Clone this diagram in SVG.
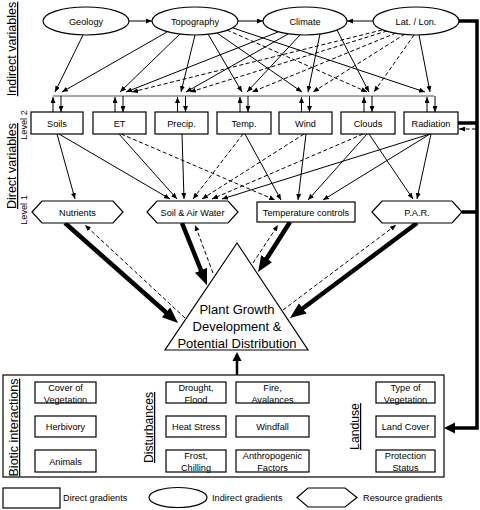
<svg xmlns="http://www.w3.org/2000/svg" width="480" height="510" viewBox="0 0 480 510">
<style>
text{font-family:"Liberation Sans",Arial,sans-serif;fill:#000}
.t{font-size:9.2px;text-anchor:middle}
.big{font-size:13px;text-anchor:middle}
.lab{font-size:12.5px;text-anchor:middle;text-decoration:underline}
.lv{font-size:9.2px;text-anchor:middle}
.sh{fill:#fff;stroke:#000;stroke-width:1.2}
.s{stroke:#000;stroke-width:1;fill:none}
.d{stroke:#000;stroke-width:1;fill:none;stroke-dasharray:4 2.5}
.k{stroke:#000;stroke-width:4.5;fill:none}
.r{stroke:#000;stroke-width:3.5;fill:none}
</style>
<defs>
<marker id="a" viewBox="0 0 6 5" refX="6" refY="2.5" markerWidth="6" markerHeight="5" markerUnits="userSpaceOnUse" orient="auto"><path d="M0,0L6,2.5L0,5z" fill="#000"/></marker>
<marker id="T" viewBox="0 0 16 13" refX="4" refY="6.5" markerWidth="16" markerHeight="13" markerUnits="userSpaceOnUse" orient="auto"><path d="M0,0L16,6.5L0,13z" fill="#000"/></marker>
</defs>
<rect width="480" height="510" fill="#fff"/>

<g id="side-labels">
<text class="lab" transform="translate(16,49) rotate(-90)">Indirect variables</text>
<text class="lab" transform="translate(16,166) rotate(-90)">Direct  variables</text>
<text class="lv" transform="translate(27,125) rotate(-90)">Level 2</text>
<text class="lv" transform="translate(27,210) rotate(-90)">Level 1</text>
</g>

<g id="connectors">
<line class="s" x1="129" y1="21" x2="152" y2="21" marker-end="url(#a)"/>
<line class="s" x1="238" y1="21" x2="263" y2="21" marker-end="url(#a)"/>
<line class="s" x1="373" y1="21" x2="347" y2="21" marker-end="url(#a)"/>
<line x1="53" y1="96" x2="434" y2="96" stroke="#8a8a8a" stroke-width="1.3"/>
<line class="s" x1="83" y1="35" x2="55" y2="92" marker-end="url(#a)"/>
<line class="s" x1="167" y1="32" x2="62" y2="92" marker-end="url(#a)"/>
<line class="s" x1="180" y1="34" x2="120" y2="92" marker-end="url(#a)"/>
<line class="s" x1="195" y1="35" x2="181" y2="92" marker-end="url(#a)"/>
<line class="s" x1="208" y1="34" x2="242" y2="92" marker-end="url(#a)"/>
<line class="s" x1="217" y1="33" x2="302" y2="92" marker-end="url(#a)"/>
<line class="d" x1="227" y1="30" x2="367" y2="92" marker-end="url(#a)"/>
<line class="s" x1="233" y1="28" x2="425" y2="92" marker-end="url(#a)"/>
<line class="s" x1="278" y1="32" x2="126" y2="92" marker-end="url(#a)"/>
<line class="s" x1="288" y1="34" x2="186" y2="92" marker-end="url(#a)"/>
<line class="s" x1="300" y1="35" x2="247" y2="92" marker-end="url(#a)"/>
<line class="s" x1="320" y1="34" x2="308" y2="92" marker-end="url(#a)"/>
<line class="s" x1="337" y1="30" x2="369" y2="92" marker-end="url(#a)"/>
<line class="d" x1="382" y1="30" x2="132" y2="92" marker-end="url(#a)"/>
<line class="d" x1="387" y1="31" x2="190" y2="92" marker-end="url(#a)"/>
<line class="d" x1="396" y1="33" x2="252" y2="92" marker-end="url(#a)"/>
<line class="d" x1="405" y1="34" x2="313" y2="92" marker-end="url(#a)"/>
<line class="d" x1="414" y1="35" x2="374" y2="92" marker-end="url(#a)"/>
<line class="s" x1="419" y1="35" x2="430" y2="92" marker-end="url(#a)"/>
<!-- up/down between bus and level-2 boxes -->
<line class="s" x1="53" y1="112" x2="53" y2="97" marker-end="url(#a)"/>
<line class="s" x1="61" y1="96" x2="61" y2="112" marker-end="url(#a)"/>
<line class="s" x1="115" y1="112" x2="115" y2="97" marker-end="url(#a)"/>
<line class="s" x1="123" y1="96" x2="123" y2="112" marker-end="url(#a)"/>
<line class="s" x1="177.5" y1="112" x2="177.5" y2="97" marker-end="url(#a)"/>
<line class="s" x1="185.5" y1="96" x2="185.5" y2="112" marker-end="url(#a)"/>
<line class="s" x1="240" y1="112" x2="240" y2="97" marker-end="url(#a)"/>
<line class="s" x1="248" y1="96" x2="248" y2="112" marker-end="url(#a)"/>
<line class="s" x1="301.5" y1="112" x2="301.5" y2="97" marker-end="url(#a)"/>
<line class="s" x1="309.5" y1="96" x2="309.5" y2="112" marker-end="url(#a)"/>
<line class="s" x1="364" y1="112" x2="364" y2="97" marker-end="url(#a)"/>
<line class="s" x1="372" y1="96" x2="372" y2="112" marker-end="url(#a)"/>
<line class="s" x1="427" y1="112" x2="427" y2="97" marker-end="url(#a)"/>
<line class="s" x1="435" y1="96" x2="435" y2="112" marker-end="url(#a)"/>
<!-- level 2 to level 1 -->
<line class="s" x1="57" y1="134" x2="75" y2="199" marker-end="url(#a)"/>
<line class="s" x1="59" y1="134" x2="170" y2="199" marker-end="url(#a)"/>
<line class="s" x1="119" y1="134" x2="177" y2="199" marker-end="url(#a)"/>
<line class="d" x1="121" y1="134" x2="275" y2="200" marker-end="url(#a)"/>
<line class="s" x1="182" y1="134" x2="184" y2="199" marker-end="url(#a)"/>
<line class="d" x1="243" y1="134" x2="193" y2="199" marker-end="url(#a)"/>
<line class="s" x1="245" y1="134" x2="281" y2="200" marker-end="url(#a)"/>
<line class="d" x1="304" y1="134" x2="202" y2="199" marker-end="url(#a)"/>
<line class="s" x1="306" y1="134" x2="298" y2="200" marker-end="url(#a)"/>
<line class="d" x1="363" y1="134" x2="212" y2="199" marker-end="url(#a)"/>
<line class="s" x1="367" y1="134" x2="308" y2="200" marker-end="url(#a)"/>
<line class="s" x1="369" y1="134" x2="413" y2="199" marker-end="url(#a)"/>
<line class="s" x1="430" y1="134" x2="222" y2="199" marker-end="url(#a)"/>
<line class="s" x1="430" y1="134" x2="323" y2="200" marker-end="url(#a)"/>
<line class="s" x1="431" y1="134" x2="417" y2="199" marker-end="url(#a)"/>
<!-- right thick feedback line -->
<polyline class="r" points="459,21 477,21 477,428 453,428"/>
<polygon points="444,428 455,422.5 455,433.5" fill="#000"/>
<line class="r" x1="458" y1="123" x2="477" y2="123"/>
<line class="r" x1="462" y1="212" x2="477" y2="212"/>
<line class="d" x1="476" y1="129" x2="459" y2="129" marker-end="url(#a)"/>
<!-- thick arrows to plant growth -->
<line class="k" x1="65" y1="223" x2="169" y2="315" marker-end="url(#T)"/>
<line class="k" x1="182" y1="223" x2="202.5" y2="274" marker-end="url(#T)"/>
<line class="k" x1="290" y1="222" x2="264.5" y2="262" marker-end="url(#T)"/>
<line class="k" x1="417" y1="223" x2="299.6" y2="310.8" marker-end="url(#T)"/>
<!-- dashed feedback -->
<line class="d" x1="185" y1="318" x2="85" y2="225" marker-end="url(#a)"/>
<line class="d" x1="213" y1="273" x2="195" y2="225" marker-end="url(#a)"/>
<line class="d" x1="253" y1="263" x2="278" y2="225" marker-end="url(#a)"/>
<line class="d" x1="283" y1="310" x2="396" y2="225" marker-end="url(#a)"/>
<!-- from modifiers box -->
<line x1="237" y1="375" x2="237" y2="360" stroke="#000" stroke-width="2.5"/>
<polygon points="237,352 232.5,361 241.5,361" fill="#000"/>
</g>

<g id="geology"><ellipse class="sh" cx="86" cy="21" rx="43" ry="14"/><text class="t" x="86" y="24.5">Geology</text></g>
<g id="topography"><ellipse class="sh" cx="195" cy="21" rx="43" ry="14"/><text class="t" x="195" y="24.5">Topography</text></g>
<g id="climate"><ellipse class="sh" cx="305" cy="21" rx="42" ry="14"/><text class="t" x="305" y="24.5">Climate</text></g>
<g id="latlon"><ellipse class="sh" cx="416" cy="21" rx="43" ry="14"/><text class="t" x="416" y="24.5">Lat. / Lon.</text></g>

<g id="soils"><rect class="sh" x="31" y="112" width="52" height="22"/><text class="t" x="57" y="126.5">Soils</text></g>
<g id="et"><rect class="sh" x="93" y="112" width="53" height="22"/><text class="t" x="119.5" y="126.5">ET</text></g>
<g id="precip"><rect class="sh" x="155" y="112" width="53" height="22"/><text class="t" x="181.5" y="126.5">Precip.</text></g>
<g id="temp"><rect class="sh" x="217" y="112" width="54" height="22"/><text class="t" x="244" y="126.5">Temp.</text></g>
<g id="wind"><rect class="sh" x="279" y="112" width="53" height="22"/><text class="t" x="305.5" y="126.5">Wind</text></g>
<g id="clouds"><rect class="sh" x="341" y="112" width="54" height="22"/><text class="t" x="368" y="126.5">Clouds</text></g>
<g id="radiation"><rect class="sh" x="404" y="112" width="54" height="22"/><text class="t" x="431" y="126.5">Radiation</text></g>

<g id="nutrients"><polygon class="sh" points="32,212 42,201 113,201 123,212 113,223 42,223"/><text class="t" x="77.5" y="215.5">Nutrients</text></g>
<g id="soil-air-water"><polygon class="sh" points="147,212 157,201 228,201 238,212 228,223 157,223"/><text class="t" x="192.5" y="215.5">Soil &amp; Air Water</text></g>
<g id="temperature-controls"><rect class="sh" x="257" y="202" width="98" height="20"/><text class="t" x="306" y="215.5">Temperature controls</text></g>
<g id="par"><polygon class="sh" points="372,212 382,201 452,201 462,212 452,223 382,223"/><text class="t" x="417" y="215.5">P.A.R.</text></g>

<g id="plant-growth"><polygon class="sh" points="237,243 165,350 308,350"/>
<text class="big" x="237" y="314">Plant Growth</text>
<text class="big" x="237" y="331">Development &amp;</text>
<text class="big" x="237" y="347.5">Potential Distribution</text></g>

<g id="modifiers">
<rect class="sh" x="3" y="375" width="441" height="102"/>
<text class="lab" transform="translate(18,427.5) rotate(-90)">Biotic interactions</text>
<text class="lab" style="font-size:12.2px" transform="translate(153,427.5) rotate(-90)">Disturbances</text>
<text class="lab" style="font-size:12.2px" transform="translate(359,426.5) rotate(-90)">Landuse</text>
<g id="cover"><rect class="sh" x="35" y="382" width="61" height="21"/><text class="t" x="65.5" y="390.5">Cover of</text><text class="t" x="65.5" y="402.5">Vegetation</text></g>
<g id="herbivory"><rect class="sh" x="35" y="416" width="61" height="21"/><text class="t" x="65.5" y="430">Herbivory</text></g>
<g id="animals"><rect class="sh" x="35" y="450" width="61" height="22"/><text class="t" x="65.5" y="464.5">Animals</text></g>
<g id="drought"><rect class="sh" x="166" y="382" width="60" height="21"/><text class="t" x="196" y="390.5">Drought,</text><text class="t" x="196" y="402.5">Flood</text></g>
<g id="heat"><rect class="sh" x="166" y="416" width="60" height="21"/><text class="t" x="196" y="430">Heat Stress</text></g>
<g id="frost"><rect class="sh" x="166" y="450" width="60" height="22"/><text class="t" x="196" y="458.5">Frost,</text><text class="t" x="196" y="470.5">Chilling</text></g>
<g id="fire"><rect class="sh" x="236" y="382" width="73" height="21"/><text class="t" x="272.5" y="390.5">Fire,</text><text class="t" x="272.5" y="402.5">Avalances</text></g>
<g id="windfall"><rect class="sh" x="236" y="416" width="73" height="21"/><text class="t" x="272.5" y="430">Windfall</text></g>
<g id="anthropogenic"><rect class="sh" x="236" y="450" width="73" height="22"/><text class="t" x="272.5" y="458.5">Anthropogenic</text><text class="t" x="272.5" y="470.5">Factors</text></g>
<g id="type-veg"><rect class="sh" x="376" y="382" width="59" height="21"/><text class="t" x="405.5" y="390.5">Type of</text><text class="t" x="405.5" y="402.5">Vegetation</text></g>
<g id="land-cover"><rect class="sh" x="376" y="416" width="59" height="21"/><text class="t" x="405.5" y="430">Land Cover</text></g>
<g id="protection"><rect class="sh" x="376" y="450" width="59" height="22"/><text class="t" x="405.5" y="458.5">Protection</text><text class="t" x="405.5" y="470.5">Status</text></g>
</g>

<g id="legend">
<rect class="sh" x="3" y="488" width="57" height="20"/>
<text x="63" y="501" style="font-size:9.2px">Direct gradients</text>
<ellipse class="sh" cx="178" cy="497.5" rx="29" ry="10"/>
<text x="212" y="501" style="font-size:9.2px">Indirect gradients</text>
<polygon class="sh" points="297,497.5 308,488 345,488 357,497.5 345,507 308,507"/>
<text x="363" y="501" style="font-size:9.2px">Resource gradients</text>
</g>
</svg>
